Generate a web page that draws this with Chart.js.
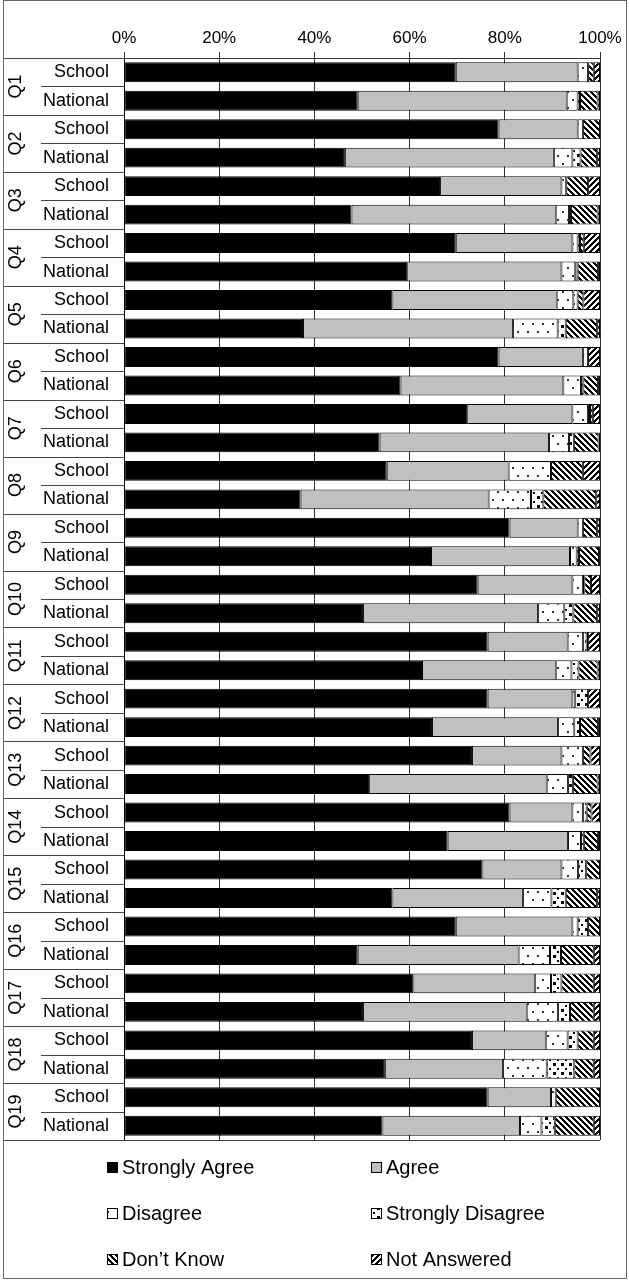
<!DOCTYPE html>
<html>
<head>
<meta charset="utf-8">
<script src="https://cdn.jsdelivr.net/npm/chart.js@4.4.1/dist/chart.umd.min.js"></script>
<style>
html, body { margin: 0; padding: 0; background: #fff; }
#wrap { width: 629px; height: 1280px; position: relative; }
</style>
</head>
<body>
<div id="wrap"><canvas id="surveyChart" width="629" height="1280"></canvas></div>
<script>
var questions = ["Q1","Q2","Q3","Q4","Q5","Q6","Q7","Q8","Q9","Q10","Q11","Q12","Q13","Q14","Q15","Q16","Q17","Q18","Q19"];
var groups = ["School", "National"];
var seriesNames = ["Strongly Agree", "Agree", "Disagree", "Strongly Disagree", "Don\u2019t Know", "Not Answered"];
var tickLabels = ["0%", "20%", "40%", "60%", "80%", "100%"];

// values per bar: School, National for Q1..Q19 (percent)
var stronglyAgree = [69.7,49.1, 78.7,46.4, 66.4,47.8, 69.7,59.5, 56.4,37.6, 78.7,58.1, 72.1,53.7, 55.2,37.1, 81.0,64.5, 74.3,50.2,
                     76.4,62.6, 76.4,64.7, 73.1,51.5, 81.0,68.0, 75.3,56.4, 69.7,49.1, 60.8,50.2, 73.1,54.8, 76.4,54.3];
var agree = [25.6,43.9, 16.6,43.9, 25.5,42.9, 24.5,32.4, 34.5,44.1, 17.7,34.2, 22.1,35.6, 25.6,39.5, 14.3,29.2, 19.9,36.8,
             16.8,28.1, 17.8,26.5, 18.8,37.3, 13.2,25.3, 16.6,27.4, 24.5,33.8, 25.5,34.4, 15.5,24.8, 13.3,28.9];
var disagree = [2.2,2.3, 1.1,3.9, 1.0,2.8, 1.1,2.9, 3.5,9.4, 1.1,3.7, 3.3,4.2, 8.9,8.9, 1.1,1.4, 2.2,5.5,
                3.2,3.3, 0.6,3.4, 4.5,4.5, 2.2,2.7, 3.5,6.0, 1.1,6.6, 3.4,6.6, 4.6,9.2, 1.0,4.5];
var stronglyDisagree = [0,0.5, 0,1.7, 0,0.4, 0.5,0.5, 0.9,1.7, 0,0.5, 0.4,1.0, 0,2.6, 0,0.5, 0.3,1.9,
                        0.8,1.5, 2.7,1.2, 0,1.0, 0.8,0.6, 1.7,3.0, 2.2,2.3, 2.2,2.5, 2.1,5.8, 0,2.8];
var dontKnow = [1.2,3.7, 3.6,3.5, 4.6,5.6, 0.8,4.3, 1.2,6.6, 0,3.1, 0.6,5.2, 6.7,11.1, 3.0,4.2, 1.4,5.0,
                0.3,4.0, 0,3.8, 1.6,5.2, 1.0,3.0, 2.9,6.6, 2.5,6.9, 6.8,5.0, 3.4,4.1, 9.3,8.2];
var notAnswered = [1.3,0.5, 0,0.6, 2.5,0.5, 3.4,0.4, 3.5,0.6, 2.5,0.4, 1.5,0.3, 3.6,0.8, 0.6,0.2, 1.9,0.6,
                   2.5,0.5, 2.5,0.4, 2.0,0.5, 1.8,0.4, 0,0.6, 0,1.3, 1.3,1.3, 1.3,1.3, 0,1.3];

var FONT = '"Liberation Sans", Arial, sans-serif';

// pattern helpers
function makeTile(w, h, paint) {
    var c = document.createElement('canvas');
    c.width = w; c.height = h;
    var g = c.getContext('2d');
    g.fillStyle = '#fff';
    g.fillRect(0, 0, w, h);
    g.fillStyle = '#000';
    paint(g, w, h);
    return document.createElement('canvas').getContext('2d').createPattern(c, 'repeat');
}
function stripes(dir) {
    return makeTile(6, 6, function(g, w, h) {
        for (var x = 0; x < w; x++) {
            for (var y = 0; y < h; y++) {
                var k = dir > 0 ? (x - y + 12) % 6 : (x + y) % 6;
                if (k < 3) g.fillRect(x, y, 1, 1);
            }
        }
    });
}
var dotsPattern = makeTile(10, 16, function(g) {
    g.fillStyle = '#333';
    g.fillRect(2, 3, 2, 2);
    g.fillRect(7, 11, 2, 2);
});
var squaresPattern = makeTile(8, 9, function(g) {
    g.fillRect(1, 1, 3, 3);
    g.fillRect(5, 6, 2, 2);
});
var fills = ['#000000', '#c0c0c0', dotsPattern, squaresPattern, stripes(1), stripes(-1)];
var seriesData = [stronglyAgree, agree, disagree, stronglyDisagree, dontKnow, notAnswered];

var barLabels = [];
questions.forEach(function(q) {
    groups.forEach(function(g) { barLabels.push(q + ' ' + g); });
});

var sideLabels = {
    id: 'sideLabels',
    afterDraw: function(chart) {
        var ctx = chart.ctx, ys = chart.scales.y, area = chart.chartArea;
        var half = (ys.getPixelForValue(1) - ys.getPixelForValue(0)) / 2;
        ctx.save();
        ctx.strokeStyle = '#444';
        ctx.lineWidth = 1;
        ctx.beginPath();
        ctx.moveTo(4, Math.round(area.top) + 0.5);
        ctx.lineTo(area.left, Math.round(area.top) + 0.5);
        ctx.stroke();
        ctx.fillStyle = '#000';
        questions.forEach(function(q, i) {
            var yS = ys.getPixelForValue(i * 2), yN = ys.getPixelForValue(i * 2 + 1);
            var mid = Math.round((yS + yN) / 2) + 0.5, bottom = Math.round(yN + half) + 0.5;
            ctx.beginPath();
            ctx.moveTo(4, bottom); ctx.lineTo(i == questions.length - 1 ? area.right : area.left, bottom);
            ctx.moveTo(41, mid); ctx.lineTo(area.left, mid);
            ctx.stroke();
            ctx.font = '18px ' + FONT;
            ctx.textAlign = 'right';
            ctx.textBaseline = 'middle';
            ctx.fillText(groups[0], 109, yS);
            ctx.fillText(groups[1], 109, yN);
            ctx.save();
            ctx.translate(16, (yS + yN) / 2);
            ctx.rotate(-Math.PI / 2);
            ctx.textAlign = 'center';
            ctx.fillText(q, 0, 0);
            ctx.restore();
        });
        // legend, two columns
        ctx.font = '20px ' + FONT;
        ctx.textAlign = 'left';
        ctx.textBaseline = 'middle';
        seriesNames.forEach(function(name, i) {
            var x = i % 2 == 0 ? 107 : 371;
            var y = 1167 + Math.floor(i / 2) * 46;
            ctx.fillStyle = fills[i];
            ctx.fillRect(x, y - 5, 11, 11);
            ctx.strokeStyle = '#000';
            ctx.strokeRect(x + 0.5, y - 4.5, 10, 10);
            ctx.fillStyle = '#000';
            ctx.fillText(name, x + 15, y + 1);
        });
        // outer frame
        ctx.strokeStyle = '#666';
        ctx.strokeRect(3.5, 0.5, 623, 1278);
        ctx.restore();
    }
};

new Chart(document.getElementById('surveyChart'), {
    type: 'bar',
    data: {
        labels: barLabels,
        datasets: seriesNames.map(function(name, i) {
            return {
                label: name,
                data: seriesData[i],
                backgroundColor: fills[i],
                borderColor: '#000',
                borderWidth: 1,
                borderSkipped: false,
                barPercentage: 0.7,
                categoryPercentage: 1.0
            };
        })
    },
    options: {
        indexAxis: 'y',
        responsive: false,
        animation: false,
        layout: { padding: { left: 4, right: 29, top: 0, bottom: 140 } },
        plugins: { legend: { display: false }, tooltip: { enabled: false } },
        scales: {
            x: {
                position: 'top',
                stacked: true,
                min: 0,
                max: 100,
                ticks: {
                    stepSize: 20,
                    color: '#000',
                    padding: 3,
                    font: { family: FONT, size: 17 },
                    callback: function(v, i) { return tickLabels[i]; }
                },
                grid: { color: '#333', tickLength: 6 },
                border: { display: true, color: '#333' },
                afterFit: function(s) { s.height = 58; }
            },
            y: {
                stacked: true,
                ticks: { display: false },
                grid: { display: false },
                border: { display: true, color: '#000' },
                afterFit: function(s) { s.width = 120; }
            }
        }
    },
    plugins: [sideLabels]
});
</script>
</body>
</html>
